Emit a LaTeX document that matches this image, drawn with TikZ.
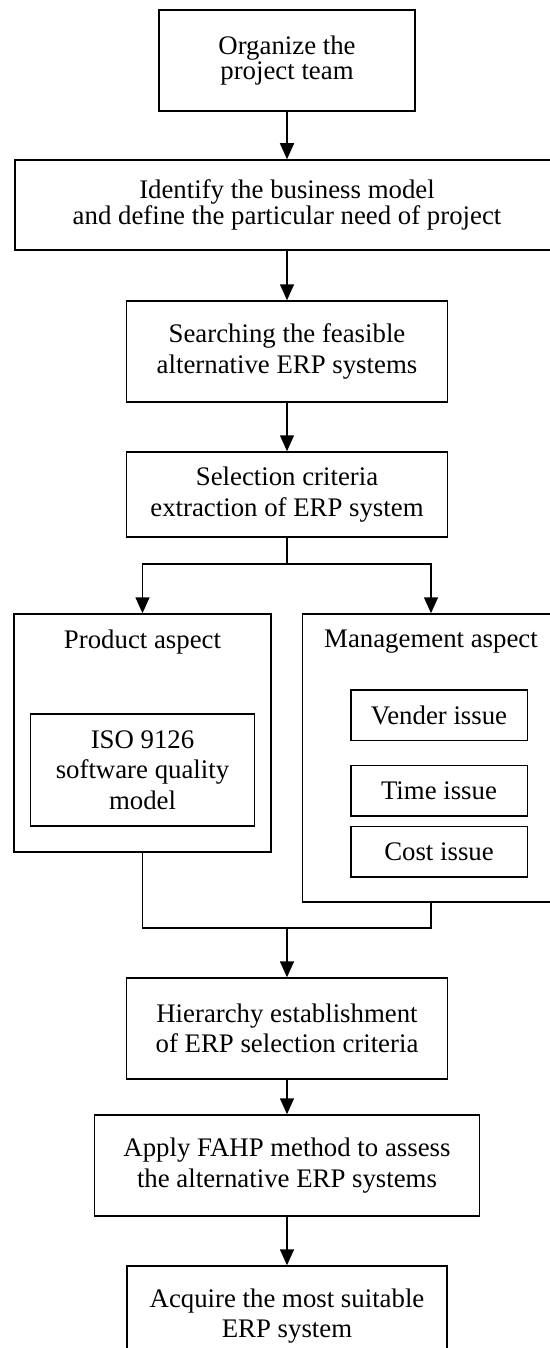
\documentclass[tikz,border=0pt]{standalone}
\usepackage{fontspec}
\setmainfont{Liberation Serif}
\usetikzlibrary{arrows.meta}
\begin{document}
\begin{tikzpicture}[x=1pt,y=-1pt,
  box/.style={draw, line width=1.5pt, align=center, inner sep=0pt,
              font=\fontsize{26.8}{30.5}\selectfont},
  tight/.style={font=\fontsize{26.8}{24.5}\selectfont},
  title/.style={inner sep=0pt, font=\fontsize{26.8}{30.5}\selectfont},
  wire/.style={line width=1.5pt},
  arr/.style={line width=1.5pt, -{Triangle[width=14pt,length=16pt]}}]
\useasboundingbox (0,0) rectangle (549,1348);

% main column
\node[box,tight,minimum width=256pt,minimum height=101pt] (n1) at (287,60.5) {Organize the\\project team};
\node[box,tight,minimum width=544pt,minimum height=90pt] (n2) at (287,205) {Identify the business model\\and define the particular need of project};
\node[box,minimum width=321pt,minimum height=101pt] (n3) at (287,351.5) {Searching the feasible\\alternative ERP systems};
\node[box,minimum width=321pt,minimum height=85pt] (n4) at (287,494.5) {Selection criteria\\extraction of ERP system};

% two aspect groups
\node[box,minimum width=257pt,minimum height=238pt] (prod) at (142.5,733) {};
\node[title] (ptitle) at (142.5,642) {Product aspect};
\node[box,minimum width=224pt,minimum height=112pt] (iso) at (142.5,770) {ISO 9126\\software quality\\model};

\node[box,minimum width=257pt,minimum height=288pt] (mgmt) at (431,758) {};
\node[title] (mtitle) at (431,642) {Management aspect};
\node[box,minimum width=176.5pt,minimum height=50.5pt] (vend) at (439,715) {Vender issue};
\node[box,minimum width=176.5pt,minimum height=50.5pt] (time) at (439,790.5) {Time issue};
\node[box,minimum width=176.5pt,minimum height=50.5pt] (cost) at (439,851.5) {Cost issue};

% lower column
\node[box,minimum width=321pt,minimum height=101pt] (hier) at (287,1028.5) {Hierarchy establishment\\of ERP selection criteria};
\node[box,minimum width=385pt,minimum height=101pt] (fahp) at (287,1165.5) {Apply FAHP method to assess\\the alternative ERP systems};
\node[box,minimum width=320pt,minimum height=100pt] (acq) at (287,1316) {Acquire the most suitable\\ERP system};

% connectors
\coordinate (split) at (287,564);
\coordinate (merge) at (287,928);
\draw[arr] (n1.south) -- (n2.north);
\draw[arr] (n2.south) -- (n3.north);
\draw[arr] (n3.south) -- (n4.north);
\draw[wire] (n4.south) -- (split);
\draw[arr] (split) -| (prod.north);
\draw[arr] (split) -| (mgmt.north);
\draw[wire] (prod.south) |- (merge);
\draw[wire] (mgmt.south) |- (merge);
\draw[arr] (merge) -- (hier.north);
\draw[arr] (hier.south) -- (fahp.north);
\draw[arr] (fahp.south) -- (acq.north);
\end{tikzpicture}
\end{document}
